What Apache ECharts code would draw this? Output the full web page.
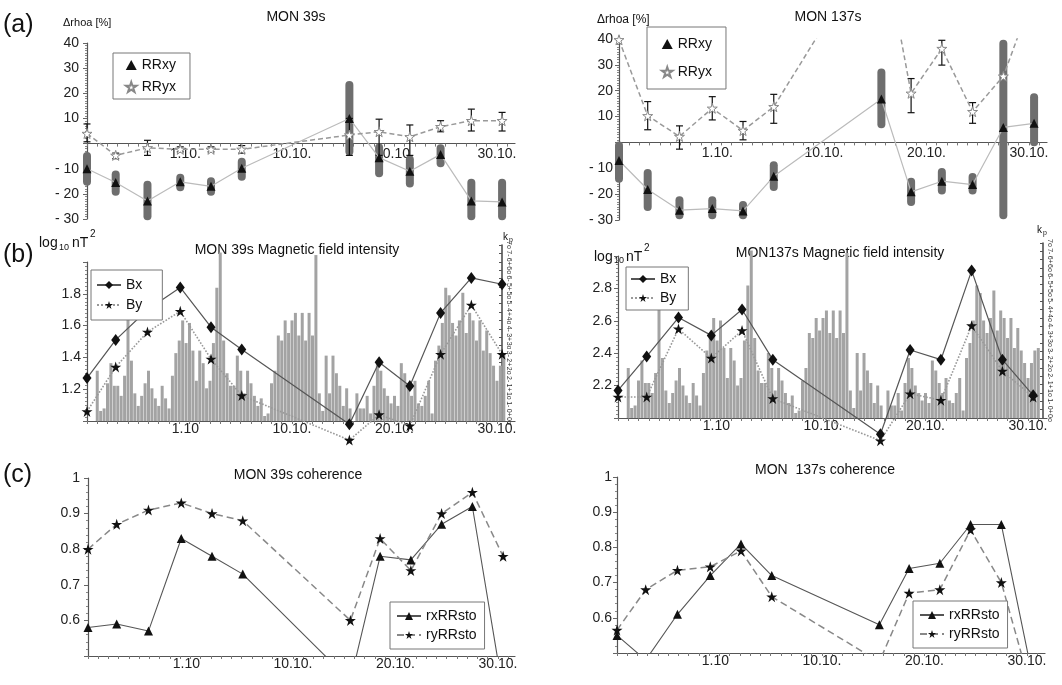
<!DOCTYPE html>
<html>
<head>
<meta charset="utf-8">
<script src="https://cdn.jsdelivr.net/npm/echarts@6.0.0/dist/echarts.min.js"></script>
<style>
html, body { margin: 0; padding: 0; background: #fff; }
#chart { width: 1062px; height: 685px; }
</style>
</head>
<body>
<div id="chart"></div>
<script>
// sample dates, in days relative to 1 October (1.10 = 0)
var days = [-11, -8.2, -5.1, -1.9, 1.1, 4.1, 14.6, 17.5, 20.5, 23.5, 26.5, 29.5];
var labelDays = [-1.4, 9, 19, 29];
var aTickText = ['1.10.', '10.10.', '20.10.', '30.10.'];
var bcTickText = ['1.10', '10.10.', '20.10.', '30.10.'];

// (a) apparent resistivity change, MON 39s
var rrxy39 = [-10, -15.5, -22.8, -15.2, -17, -9.8, 10, -5.6, -11, -4.3, -22.8, -23.2];
var rrxy39Lo = [-16.8, -20.8, -30.5, -19, -20.8, -14.8, -4.7, -13.4, -17.5, -9.4, -30.5, -30.5];
var rrxy39Hi = [-3.4, -10.7, -14.8, -12, -13.4, -5.6, 24.9, 0, -4.7, -0.3, -14, -14];
var rryx39 = [4, -4.7, -1.7, -2.3, -2.3, -2.3, 3.4, 4.7, 2.7, 6.7, 9.1, 9.1];
var rryx39Lo = [0.7, -6, -4.7, -3.3, -3.3, -3.8, -4.7, -4.7, -4.7, 4.7, 5, 5];
var rryx39Hi = [7.8, -3.8, 1.3, -1.3, -1.3, -0.8, 10, 9.7, 7.4, 9.1, 13.7, 12.4];

// (a) MON 137s
var rrxy137 = [-7, -18.2, -26.2, -25.6, -26.5, -13.1, 16.8, -19.1, -15, -16.3, 5.8, 7.4];
var rrxy137Lo = [-15.6, -26.5, -29.7, -29.7, -29.7, -18.8, 5.5, -24.6, -20.1, -20.1, -29.7, -1.5];
var rrxy137Hi = [0.4, -10.3, -20.8, -20.8, -22.7, -7.3, 28.6, -13.7, -9.9, -11.8, 39.7, 19];
var rryx137 = [39.7, 10.3, 2.3, 13.2, 4.6, 13.8, 81, 19, 36.3, 11.9, 25.6, 58];
var rryx137Lo = [null, 4.9, -2.6, 8.7, 1, 7.4, null, 11.5, 29.9, 7.4, null, null];
var rryx137Hi = [null, 15.8, 6.4, 17.7, 8.1, 18.6, null, 24.7, 39.5, 15.4, null, null];

// (b) magnetic field intensity, log10 nT^2
var bx39 = [1.27, 1.51, 1.70, 1.84, 1.59, 1.45, 0.98, 1.37, 1.22, 1.68, 1.90, 1.86];
var by39 = [1.06, 1.34, 1.56, 1.69, 1.39, 1.16, 0.88, 1.04, 0.97, 1.42, 1.73, 1.42];
var bx137 = [2.17, 2.38, 2.62, 2.51, 2.67, 2.36, 1.90, 2.42, 2.36, 2.91, 2.36, 2.14];
var by137 = [2.13, 2.13, 2.55, 2.37, 2.54, 2.12, 1.86, 2.15, 2.11, 2.57, 2.29, 2.13];

// kp index, one value every 1/3 day starting at day -10
var kpStart = -10;
var kpStep = 1 / 3;
var kp = [2.0, 0.4, 0.5, 1.5, 2.3, 1.4, 1.4, 1.0, 1.8, 4.4,
          2.4, 1.1, 0.6, 1.0, 1.5, 2.0, 1.3, 0.9, 0.6, 1.4,
          0.9, 0.5, 1.8, 2.7, 3.2, 4.0, 3.1, 3.9, 2.8, 1.6,
          2.8, 2.3, 1.3, 1.6, 3.1, 5.3, 6.7, 3.2, 1.9, 1.4,
          1.4, 2.6, 2.0, 1.1, 2.0, 1.5, 1.0, 0.6, 0.9, 0.2,
          0.3, 1.5, 2.0, 3.4, 3.2, 4.0, 3.5, 4.0, 4.3, 3.4,
          4.3, 3.2, 4.3, 3.4, 6.6, 1.1, 0.4, 2.6, 1.1, 2.6,
          1.9, 1.4, 0.6, 1.3, 0.5, 0, 1.1, 0.5, 0.5, 1.0,
          0.3, 1.4, 2.4, 2.0, 1.3, 1.0, 0.7, 1.0, 0.6, 2.3,
          1.9, 1.4, 1.0, 1.6, 0.7, 0.6, 1.0, 1.6, 0.3, 2.4,
          3.0, 3.9, 5.3, 5.0, 3.9, 3.4, 4.0, 5.1, 3.5, 4.3,
          4.0, 3.2, 4.0, 2.8, 3.6, 2.7, 2.2, 1.6, 2.2, 2.7,
          2.8];

// (c) coherence
var rx39 = [0.58, 0.59, 0.57, 0.83, 0.78, 0.73, 0.43, 0.78, 0.77, 0.87, 0.92, 0.40];
var ry39 = [0.80, 0.87, 0.91, 0.93, 0.90, 0.88, 0.60, 0.83, 0.74, 0.90, 0.96, 0.78];
var rx137 = [0.55, 0.48, 0.61, 0.72, 0.81, 0.72, 0.58, 0.74, 0.755, 0.865, 0.865, 0.44];
var ry137 = [0.565, 0.68, 0.735, 0.745, 0.79, 0.66, 0.475, 0.67, 0.68, 0.85, 0.70, 0.39];

var FONT = "'Liberation Sans', Arial, sans-serif";
var starPath = 'path://M0,-10L2.245,-3.09L9.51,-3.09L3.633,1.18L5.88,8.09L0,3.82L-5.88,8.09L-3.633,1.18L-9.51,-3.09L-2.245,-3.09Z';

var dayTicks = [];
for (var d = -11; d <= 30; d++) dayTicks.push(d);

function pairs(ys) {
  return days.map(function (x, i) { return [x, ys[i]]; });
}
function ranges(lo, hi) {
  var out = [];
  days.forEach(function (x, i) {
    if (lo[i] != null && hi[i] != null) out.push([x, lo[i], hi[i]]);
  });
  return out;
}
var kpData = kp.map(function (v, i) { return [kpStart + i * kpStep, v]; });

// offset: shift the axis up from the grid bottom (used to put (a)'s axis on the zero line)
function xAxis(grid, max, texts, margin, show, offset) {
  return {
    type: 'value', gridIndex: grid, min: -11, max: max, show: show !== false,
    offset: offset || 0,
    axisLine: { onZero: false, lineStyle: { color: '#555', width: 1.2 } },
    axisTick: { show: true, customValues: dayTicks, length: 3, lineStyle: { color: '#777' } },
    axisLabel: {
      customValues: labelDays, margin: margin, fontSize: 14, color: '#222', fontFamily: FONT,
      formatter: function (v) {
        for (var i = 0; i < labelDays.length; i++) {
          if (Math.abs(v - labelDays[i]) < 0.01) return texts[i];
        }
        return '';
      }
    },
    splitLine: { show: false }
  };
}

function yAxis(grid, min, max, interval, fmt, margin, minorSplit) {
  return {
    type: 'value', gridIndex: grid, min: min, max: max, interval: interval,
    axisLine: { show: true, onZero: false, lineStyle: { color: '#555', width: 1.2 } },
    axisTick: { show: true, length: 4, lineStyle: { color: '#666' } },
    minorTick: { show: true, splitNumber: minorSplit, length: 2, lineStyle: { color: '#888' } },
    axisLabel: { margin: margin, fontSize: 14, color: '#222', fontFamily: FONT, formatter: fmt },
    splitLine: { show: false }
  };
}

function kpAxis(grid) {
  return {
    type: 'value', gridIndex: grid, position: 'right', min: 0, max: 7, interval: 1 / 3,
    axisLine: { show: true, onZero: false, lineStyle: { color: '#444', width: 1.5 } },
    axisTick: { show: true, inside: true, length: 3, lineStyle: { color: '#555' } },
    axisLabel: {
      margin: 3, fontSize: 7, color: '#333', fontFamily: FONT, rotate: -90,
      formatter: function (v) {
        var t = Math.round(v * 3), n = Math.floor(t / 3), k = t % 3;
        return k === 0 ? n + 'o' : (k === 1 ? n + '+' : (n + 1) + '-');
      }
    },
    splitLine: { show: false }
  };
}

function fmtA(v) {
  if (v === 0) return '';
  return v < 0 ? '- ' + (-v) : String(v);
}
function fmtRange(lo, hi) {
  return function (v) {
    if (Math.abs(v - lo) < 1e-6 || Math.abs(v - hi) < 1e-6) return '';
    return v.toFixed(1);
  };
}
function fmtC(v) {
  if (Math.abs(v - 0.5) < 1e-6) return '';
  if (Math.abs(v - 1) < 1e-6) return '1';
  return v.toFixed(1);
}

function grayBars(name, xi, lo, hi) {
  return {
    name: name, type: 'custom', xAxisIndex: xi, yAxisIndex: xi, z: 1,
    encode: { x: 0, y: [1, 2] },
    data: ranges(lo, hi),
    renderItem: function (params, api) {
      var a = api.coord([api.value(0), api.value(2)]);
      var b = api.coord([api.value(0), api.value(1)]);
      return {
        type: 'line',
        shape: { x1: a[0], y1: a[1] + 4, x2: b[0], y2: b[1] - 4 },
        style: { stroke: '#6e6e6e', lineWidth: 8, lineCap: 'round' }
      };
    }
  };
}
function errBars(name, xi, lo, hi) {
  return {
    name: name, type: 'custom', xAxisIndex: xi, yAxisIndex: xi, z: 2,
    encode: { x: 0, y: [1, 2] },
    data: ranges(lo, hi),
    renderItem: function (params, api) {
      var a = api.coord([api.value(0), api.value(2)]);
      var b = api.coord([api.value(0), api.value(1)]);
      var st = { stroke: '#111', lineWidth: 1.2 };
      return {
        type: 'group',
        children: [
          { type: 'line', shape: { x1: a[0], y1: a[1], x2: b[0], y2: b[1] }, style: st },
          { type: 'line', shape: { x1: a[0] - 3.5, y1: a[1], x2: a[0] + 3.5, y2: a[1] }, style: st },
          { type: 'line', shape: { x1: b[0] - 3.5, y1: b[1], x2: b[0] + 3.5, y2: b[1] }, style: st }
        ]
      };
    }
  };
}
function rrxyLine(xi, ys) {
  return {
    name: 'RRxy', type: 'line', xAxisIndex: xi, yAxisIndex: xi, z: 3,
    data: pairs(ys), symbol: 'triangle', symbolSize: 9,
    itemStyle: { color: '#111' },
    lineStyle: { color: '#bbb', width: 1.2 }
  };
}
function rryxLine(xi, ys) {
  return {
    name: 'RRyx', type: 'line', xAxisIndex: xi, yAxisIndex: xi, z: 3,
    data: pairs(ys), symbol: starPath, symbolSize: 10,
    itemStyle: { color: '#fff', borderColor: '#888', borderWidth: 1 },
    lineStyle: { color: '#999', width: 1.5, type: [5, 3] }
  };
}
function bxLine(xi, ys) {
  return {
    name: 'Bx', type: 'line', xAxisIndex: xi, yAxisIndex: xi, z: 3, clip: false,
    data: pairs(ys), symbol: 'diamond', symbolSize: [9, 12],
    itemStyle: { color: '#111' },
    lineStyle: { color: '#555', width: 1.2 }
  };
}
function byLine(xi, ys) {
  return {
    name: 'By', type: 'line', xAxisIndex: xi, yAxisIndex: xi, z: 3, clip: false,
    data: pairs(ys), symbol: starPath, symbolSize: 11,
    itemStyle: { color: '#111' },
    lineStyle: { color: '#999', width: 1.6, type: 'dotted' }
  };
}
function kpBars(xi) {
  return {
    name: 'kp', type: 'bar', xAxisIndex: xi, yAxisIndex: xi, z: 1,
    data: kpData, barWidth: 3,
    itemStyle: { color: '#a3a3a3' }
  };
}
function rxLine(xi, ys) {
  return {
    name: 'rxRRsto', type: 'line', xAxisIndex: xi, yAxisIndex: xi, z: 3,
    data: pairs(ys), symbol: 'triangle', symbolSize: 9,
    itemStyle: { color: '#111' },
    lineStyle: { color: '#555', width: 1.1 }
  };
}
function ryLine(xi, ys) {
  return {
    name: 'ryRRsto', type: 'line', xAxisIndex: xi, yAxisIndex: xi, z: 3,
    data: pairs(ys), symbol: starPath, symbolSize: 11,
    itemStyle: { color: '#111' },
    lineStyle: { color: '#888', width: 1.5, type: [7, 4] }
  };
}

function legendBox(left, top, names, icons, gap, pad) {
  return {
    left: left, top: top, orient: 'vertical', selectedMode: false,
    backgroundColor: '#fff', borderColor: '#777', borderWidth: 1,
    padding: pad, itemGap: gap,
    itemWidth: icons ? 11 : 24, itemHeight: 10,
    textStyle: { fontSize: 14, color: '#111', fontFamily: FONT },
    data: names.map(function (n, i) { return icons ? { name: n, icon: icons[i] } : { name: n }; })
  };
}

function txt(text, x, y, size, align) {
  return {
    type: 'text', x: x, y: y, silent: true,
    style: {
      text: text, fill: '#111', font: size + 'px ' + FONT,
      textAlign: align || 'left', textVerticalAlign: 'middle'
    }
  };
}

function grid(l, t, w, h) {
  return { left: l, top: t, width: w, height: h, outerBoundsMode: 'none', containLabel: false };
}

var chart = echarts.init(document.getElementById('chart'), null, { renderer: 'canvas' });
chart.setOption({
  backgroundColor: '#fff',
  animation: false,
  textStyle: { fontFamily: FONT },
  grid: [
    grid(87, 43, 428, 176),
    grid(619, 39, 428, 181),
    grid(87, 262, 428, 159),
    grid(87, 245, 415, 176),
    grid(618, 256, 429, 162),
    grid(618, 243, 425, 175),
    grid(88, 478, 427, 178),
    grid(617, 477, 428, 176)
  ],
  xAxis: [
    xAxis(0, 30.76, aTickText, 4, true, -75.4),
    xAxis(1, 30.76, aTickText, 4, true, -77.6),
    xAxis(2, 30.76, bcTickText, 1),
    xAxis(3, 29.49, bcTickText, 1, false),
    xAxis(4, 30.85, bcTickText, 1),
    xAxis(5, 30.46, bcTickText, 1, false),
    xAxis(6, 30.66, bcTickText, 1),
    xAxis(7, 30.76, bcTickText, 1)
  ],
  yAxis: [
    yAxis(0, -30, 40, 10, fmtA, 8, 10),
    yAxis(1, -30, 40, 10, fmtA, 6, 10),
    yAxis(2, 1.0, 2.0, 0.2, fmtRange(1.0, 2.0), 6, 8),
    kpAxis(3),
    yAxis(4, 2.0, 3.0, 0.2, fmtRange(2.0, 3.0), 6, 8),
    kpAxis(5),
    yAxis(6, 0.5, 1.0, 0.1, fmtC, 8, 5),
    yAxis(7, 0.5, 1.0, 0.1, fmtC, 5, 5)
  ],
  legend: [
    legendBox(113, 53, ['RRxy', 'RRyx'], ['triangle', starPath], 8, [5, 14, 5, 12]),
    legendBox(647, 27, ['RRxy', 'RRyx'], ['triangle', starPath], 14, [10, 14, 10, 14]),
    legendBox(91, 270, ['Bx', 'By'], null, 6, [8, 20, 8, 5]),
    legendBox(626, 267, ['Bx', 'By'], null, 5, [5, 12, 5, 4]),
    legendBox(390, 602, ['rxRRsto', 'ryRRsto'], null, 5, [7, 8, 7, 6]),
    legendBox(913, 601, ['rxRRsto', 'ryRRsto'], null, 5, [7, 8, 7, 6])
  ],
  graphic: [
    txt('(a)', 3, 25, 25),
    txt('(b)', 3, 255, 25),
    txt('(c)', 3, 475, 25),
    txt('MON 39s', 296, 17, 14, 'center'),
    txt('MON 137s', 828, 17, 14, 'center'),
    txt('MON 39s Magnetic field intensity', 297, 250, 14, 'center'),
    txt('MON137s Magnetic field intensity', 840, 253, 14, 'center'),
    txt('MON 39s coherence', 298, 475, 14, 'center'),
    txt('MON  137s coherence', 825, 470, 14, 'center'),
    txt('\u0394rhoa [%]', 63, 23, 11),
    txt('\u0394rhoa [%]', 597, 20, 12),
    txt('log', 39, 243, 14),
    txt('10', 59, 248, 9),
    txt('nT', 72, 243, 14),
    txt('2', 90, 234, 10),
    txt('log', 594, 257, 14),
    txt('10', 614, 261, 9),
    txt('nT', 626, 257, 14),
    txt('2', 644, 248, 10),
    txt('k', 503, 237, 10),
    txt('p', 509, 240, 7),
    txt('k', 1037, 230, 10),
    txt('p', 1043, 233, 7)
  ],
  series: [
    grayBars('rrxy39err', 0, rrxy39Lo, rrxy39Hi),
    errBars('rryx39err', 0, rryx39Lo, rryx39Hi),
    rrxyLine(0, rrxy39),
    rryxLine(0, rryx39),

    grayBars('rrxy137err', 1, rrxy137Lo, rrxy137Hi),
    errBars('rryx137err', 1, rryx137Lo, rryx137Hi),
    rrxyLine(1, rrxy137),
    rryxLine(1, rryx137),

    kpBars(3),
    bxLine(2, bx39),
    byLine(2, by39),

    kpBars(5),
    bxLine(4, bx137),
    byLine(4, by137),

    rxLine(6, rx39),
    ryLine(6, ry39),
    rxLine(7, rx137),
    ryLine(7, ry137)
  ]
});
</script>
</body>
</html>
